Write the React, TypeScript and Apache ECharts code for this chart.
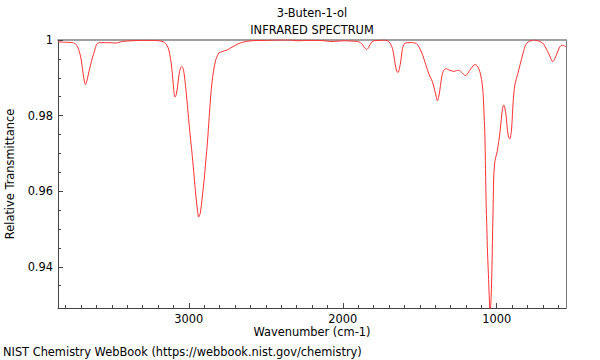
import React, { useEffect, useRef } from "react";
import * as echarts from "echarts";

const titleLines = ["3-Buten-1-ol", "INFRARED SPECTRUM"];
const xName = "Wavenumber (cm-1)";
const yName = "Relative Transmittance";
const footer = "NIST Chemistry WebBook (https://webbook.nist.gov/chemistry)";

const xMin = 550;
const xMax = 3850;
const yMin = 0.9291;
const yMax = 1;

const xMajorTicks = [1000, 2000, 3000];
const xMinorTicks = [600, 700, 800, 900, 1100, 1200, 1300, 1400, 1500, 1600, 1700, 1800, 1900, 2100, 2200, 2300, 2400, 2500, 2600, 2700, 2800, 2900, 3100, 3200, 3300, 3400, 3500, 3600, 3700, 3800];
const yMajorTicks = [0.94, 0.96, 0.98, 1];
const yMinorTicks = [0.935, 0.945, 0.95, 0.955, 0.965, 0.97, 0.975, 0.985, 0.99, 0.995];

const wavenumbers = [
  3850, 3800, 3756, 3730, 3712, 3700, 3688, 3678, 3672, 3665, 3655, 3640, 3625, 3612, 3600, 3583, 3550, 3519, 3475, 3432,
  3370, 3302, 3240, 3194, 3165, 3150, 3135, 3124, 3115, 3106, 3098, 3090, 3082, 3074, 3064, 3055, 3046, 3038, 3031, 3022,
  3010, 2999, 2988, 2977, 2966, 2955, 2945, 2936, 2927, 2918, 2910, 2901, 2890, 2879, 2868, 2858, 2849, 2840, 2832, 2825,
  2815, 2804, 2780, 2749, 2728, 2706, 2680, 2650, 2598, 2511, 2420, 2338, 2294, 2230, 2164, 2120, 2078, 2030, 1991, 1940,
  1904, 1885, 1872, 1858, 1844, 1832, 1823, 1810, 1797, 1760, 1732, 1710, 1699, 1688, 1677, 1668, 1660, 1650, 1641, 1632,
  1623, 1615, 1608, 1598, 1580, 1547, 1530, 1515, 1498, 1482, 1461, 1439, 1417, 1400, 1392, 1385, 1378, 1370, 1361, 1352,
  1340, 1326, 1312, 1298, 1277, 1262, 1248, 1235, 1222, 1210, 1201, 1188, 1175, 1160, 1148, 1140, 1128, 1114, 1103, 1095,
  1088, 1082, 1077, 1073, 1069, 1064, 1060, 1054, 1049, 1043, 1036, 1031, 1027, 1023, 1019, 1013, 1008, 997, 987, 976,
  965, 958, 954, 948, 939, 930, 922, 915, 908, 903, 893, 882, 865, 848, 832, 820, 811, 795, 778, 760,
  746, 725, 702, 685, 670, 652, 637, 626, 616, 605, 594, 583, 572, 560, 550,
];

const transmittance = [
  0.9995, 0.9994, 0.9993, 0.9987, 0.997, 0.995, 0.9915, 0.9889, 0.9882, 0.9888, 0.9905, 0.9932, 0.9955, 0.9972, 0.9988, 0.9993, 0.9993, 0.9993, 0.9992, 0.9996,
  0.9998, 0.9999, 0.9999, 0.9998, 0.9995, 0.999, 0.998, 0.9962, 0.994, 0.9905, 0.9868, 0.9849, 0.9855, 0.9875, 0.9908, 0.9925, 0.993, 0.9925, 0.9912, 0.988,
  0.983, 0.978, 0.9735, 0.969, 0.964, 0.959, 0.9553, 0.9532, 0.954, 0.9565, 0.9595, 0.9628, 0.968, 0.9731, 0.9795, 0.9852, 0.989, 0.9917, 0.9935, 0.9948,
  0.9958, 0.9966, 0.997, 0.9974, 0.9979, 0.9984, 0.999, 0.9994, 0.9998, 0.9999, 1.0, 1.0, 0.9998, 0.9999, 0.9999, 0.9998, 0.9996, 0.9997, 0.9998, 0.9997,
  0.9996, 0.9993, 0.9988, 0.9979, 0.9975, 0.998, 0.9988, 0.9995, 0.9998, 0.9999, 1.0, 0.9998, 0.9995, 0.9988, 0.9977, 0.9958, 0.9937, 0.9918, 0.9914, 0.9925,
  0.9945, 0.997, 0.9984, 0.9991, 0.9993, 0.9993, 0.9992, 0.9988, 0.9976, 0.9961, 0.9935, 0.9908, 0.9889, 0.9862, 0.9848, 0.9839, 0.9848, 0.9866, 0.9893, 0.9912,
  0.9922, 0.9924, 0.9921, 0.9919, 0.9917, 0.9919, 0.992, 0.9917, 0.9912, 0.9907, 0.9906, 0.9912, 0.992, 0.9928, 0.9934, 0.9935, 0.9932, 0.9922, 0.9905, 0.9885,
  0.9855, 0.98, 0.9749, 0.966, 0.9572, 0.95, 0.944, 0.938, 0.9325, 0.928, 0.9325, 0.94, 0.9484, 0.9565, 0.9643, 0.9675, 0.9687, 0.9705, 0.9731, 0.9767,
  0.9811, 0.9826, 0.9828, 0.9822, 0.98, 0.976, 0.9742, 0.9738, 0.975, 0.9767, 0.9837, 0.9882, 0.9908, 0.9935, 0.9961, 0.9978, 0.9988, 0.9995, 0.9998, 1.0,
  0.9999, 0.9997, 0.9992, 0.9982, 0.997, 0.9955, 0.9943, 0.9948, 0.9957, 0.9968, 0.9979, 0.9985, 0.9986, 0.9984, 0.9983,
];

const FONT = "DejaVu Sans";
const FS = 11.4;

export default function App() {
  const ref = useRef<HTMLDivElement>(null);
  useEffect(() => {
    if (!ref.current) return;
    const chart = echarts.init(ref.current, undefined, { renderer: "svg" });
    const data = wavenumbers.map((w, i) => [w, transmittance[i]]);
    const fmtY = (v: number) => String(+Number(v).toFixed(2));
    const fmtX = (v: number) => String(Math.round(Number(v)));
    const baseX = { type: "value", min: xMin, max: xMax, inverse: true, splitLine: { show: false } };
    const baseY = { type: "value", min: yMin, max: yMax, splitLine: { show: false } };
    chart.setOption({
      animation: false,
      backgroundColor: "#ffffff",
      grid: { left: 58, right: 34, top: 40, bottom: 52, containLabel: false },
      xAxis: [
        {
          ...baseX,
          position: "bottom",
          axisLine: { show: true, lineStyle: { color: "#444", width: 1 } },
          axisTick: { show: true, inside: true, length: 5, customValues: xMajorTicks, lineStyle: { color: "#444" } },
          axisLabel: { show: true, customValues: xMajorTicks, formatter: fmtX, color: "#000", fontFamily: FONT, fontSize: FS, margin: 5 },
        },
        {
          ...baseX,
          position: "bottom",
          axisLine: { show: false },
          axisTick: { show: true, inside: true, length: 3, customValues: xMinorTicks, lineStyle: { color: "#444" } },
          axisLabel: { show: false },
        },
        {
          ...baseX,
          position: "top",
          axisLine: { show: true, lineStyle: { color: "#a0a0a0", width: 2 } },
          axisTick: { show: false },
          axisLabel: { show: false },
        },
      ],
      yAxis: [
        {
          ...baseY,
          position: "left",
          axisLine: { show: true, lineStyle: { color: "#444", width: 1 } },
          axisTick: { show: true, inside: true, length: 5, customValues: yMajorTicks, lineStyle: { color: "#444" } },
          axisLabel: { show: true, customValues: yMajorTicks, formatter: fmtY, color: "#000", fontFamily: FONT, fontSize: FS, margin: 5 },
        },
        {
          ...baseY,
          position: "left",
          axisLine: { show: false },
          axisTick: { show: true, inside: true, length: 3, customValues: yMinorTicks, lineStyle: { color: "#444" } },
          axisLabel: { show: false },
        },
        {
          ...baseY,
          position: "right",
          axisLine: { show: true, lineStyle: { color: "#777", width: 1 } },
          axisTick: { show: false },
          axisLabel: { show: false },
        },
      ],
      series: [
        {
          type: "line",
          xAxisIndex: 0,
          yAxisIndex: 0,
          data,
          showSymbol: false,
          smooth: 0.3,
          clip: true,
          lineStyle: { color: "#ff3030", width: 1 },
          silent: true,
        },
      ],
      graphic: [
        { type: "text", x: 312, y: 13, style: { text: titleLines[0], fontFamily: FONT, fontSize: FS, fill: "#000", textAlign: "center", textVerticalAlign: "middle" } },
        { type: "text", x: 312, y: 30, style: { text: titleLines[1], fontFamily: FONT, fontSize: FS, fill: "#000", textAlign: "center", textVerticalAlign: "middle" } },
        { type: "text", x: 312, y: 332, style: { text: xName, fontFamily: FONT, fontSize: FS, fill: "#000", textAlign: "center", textVerticalAlign: "middle" } },
        { type: "text", x: 10, y: 174, rotation: Math.PI / 2, style: { text: yName, fontFamily: FONT, fontSize: FS, fill: "#000", textAlign: "center", textVerticalAlign: "middle" } },
        { type: "text", x: 3, y: 352, style: { text: footer, fontFamily: FONT, fontSize: FS, fill: "#000", textAlign: "left", textVerticalAlign: "middle" } },
      ],
    });
    return () => chart.dispose();
  }, []);
  return <div ref={ref} style={{ position: "absolute", left: 0, top: 0, width: 600, height: 360 }} />;
}
